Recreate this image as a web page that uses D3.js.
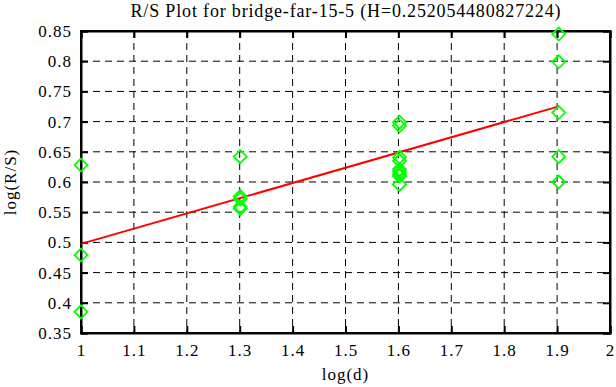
<!DOCTYPE html>
<html><head><meta charset="utf-8">
<script src="https://cdn.jsdelivr.net/npm/d3@7"></script>
<style>body{margin:0;background:#fff}svg{display:block}text{font-family:"Liberation Serif","DejaVu Serif",serif}</style>
</head><body><svg id="c" width="616" height="387"></svg>
<script>
const title = "R/S Plot for bridge-far-15-5 (H=0.252054480827224)";
const xLabel = "log(d)";
const yLabel = "log(R/S)";
const xTicks = [1,1.1,1.2,1.3,1.4,1.5,1.6,1.7,1.8,1.9,2];
const yTicks = [0.35,0.4,0.45,0.5,0.55,0.6,0.65,0.7,0.75,0.8,0.85];
const ptX = [1,1,1, 1.30103,1.30103,1.30103,1.30103,1.30103, 1.60206,1.60206,1.60206,1.60206,1.60206,1.60206,1.60206,1.60206,1.60206, 1.90309,1.90309,1.90309,1.90309,1.90309];
const ptY = [0.628,0.479,0.385, 0.642,0.576,0.572,0.559,0.556, 0.699,0.693,0.641,0.635,0.621,0.617,0.613,0.610,0.596, 0.845,0.799,0.715,0.642,0.600];
const H = 0.252054480827224;
const intercept = 0.2455;
const fitX = [1, 1.90309];

const svg = d3.select("#c");
const L=81, R=610, T=31, B=333;
const x = d3.scaleLinear().domain([1,2]).range([L,R]);
const y = d3.scaleLinear().domain([0.35,0.85]).range([B,T]);

// grid
const g = svg.append("g");
g.selectAll(".gx").data(xTicks.slice(1,-1)).enter().append("line")
 .attr("x1",d=>x(d)).attr("x2",d=>x(d)).attr("y1",T).attr("y2",B)
 .attr("stroke","#000").attr("stroke-width",1).attr("stroke-dasharray","7,5");
g.selectAll(".gy").data(yTicks.slice(1,-1)).enter().append("line")
 .attr("y1",d=>y(d)).attr("y2",d=>y(d)).attr("x1",L).attr("x2",R)
 .attr("stroke","#000").attr("stroke-width",1).attr("stroke-dasharray","7,5");

// axes with inward ticks
const ax = (gen, tr) => svg.append("g").attr("transform",tr).call(gen);
const fmt = d=>String(+d.toFixed(2));
const xb = ax(d3.axisBottom(x).tickValues(xTicks).tickSize(-7).tickPadding(11).tickFormat(fmt), `translate(0,${B})`);
const xt = ax(d3.axisTop(x).tickValues(xTicks).tickSize(-7).tickFormat(""), `translate(0,${T})`);
const yl = ax(d3.axisLeft(y).tickValues(yTicks).tickSize(-7).tickPadding(9).tickFormat(fmt), `translate(${L},0)`);
const yr = ax(d3.axisRight(y).tickValues(yTicks).tickSize(-7).tickFormat(""), `translate(${R},0)`);
[xb,xt,yl,yr].forEach(a=>{
  a.selectAll("path").attr("stroke","#000").attr("stroke-width",2);
  a.selectAll("line").attr("stroke","#000").attr("stroke-width",2);
  a.selectAll("text").attr("font-family","Liberation Serif, serif").attr("font-size",17).attr("letter-spacing",1).attr("fill","#000");
});
svg.append("rect").attr("x",L).attr("y",T).attr("width",R-L).attr("height",B-T)
 .attr("fill","none").attr("stroke","#000").attr("stroke-width",2);

// fit line
svg.append("line").attr("x1",x(fitX[0])).attr("y1",y(intercept+H*fitX[0]))
 .attr("x2",x(fitX[1])).attr("y2",y(intercept+H*fitX[1]))
 .attr("stroke","#ff0000").attr("stroke-width",2);

// points
const s=6.5;
svg.selectAll(".pt").data(ptX.map((d,i)=>[d,ptY[i]])).enter().append("path")
 .attr("d",d=>{const cx=x(d[0]),cy=y(d[1]);return `M${cx},${cy-s}L${cx+s},${cy}L${cx},${cy+s}L${cx-s},${cy}Z`;})
 .attr("fill","none").attr("stroke","#00ff00").attr("stroke-width",1.8);

svg.append("text").attr("x",(L+R)/2).attr("y",17).attr("text-anchor","middle").attr("font-size",18)
 .attr("textLength",430).attr("lengthAdjust","spacing").text(title);
svg.append("text").attr("x",(L+R)/2).attr("y",380).attr("text-anchor","middle").attr("font-size",17).attr("letter-spacing",1).text(xLabel);
svg.append("text").attr("transform",`translate(16,${(T+B)/2}) rotate(-90)`).attr("text-anchor","middle").attr("font-size",17).attr("letter-spacing",1).text(yLabel);
</script></body></html>
